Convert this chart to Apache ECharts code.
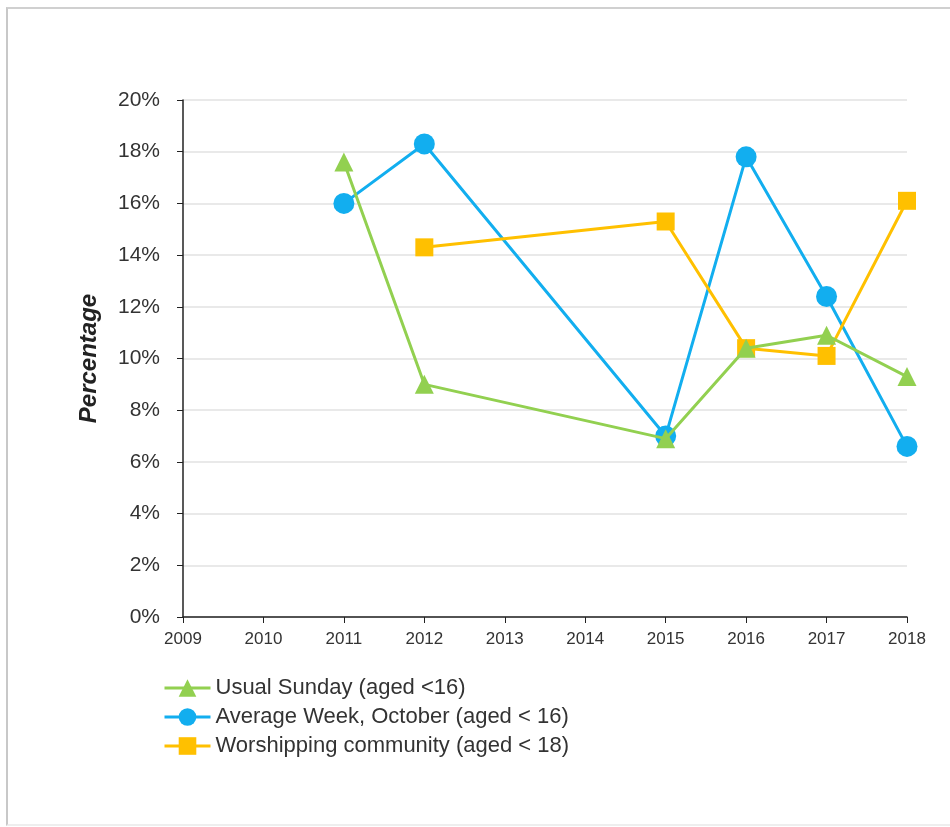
<!DOCTYPE html>
<html>
<head>
<meta charset="utf-8">
<script src="https://cdn.jsdelivr.net/npm/echarts@6/dist/echarts.min.js"></script>
<style>
html,body{margin:0;padding:0;background:#fff;}
#wrap{position:relative;width:950px;height:827px;overflow:hidden;}
#frame{position:absolute;left:6px;top:7px;width:960px;height:815px;border-left:2px solid #c8c8c8;border-top:2px solid #d0d0d0;border-bottom:2px solid #eeeeee;pointer-events:none;z-index:2;}
#chart{position:absolute;left:0;top:0;width:950px;height:827px;}
</style>
</head>
<body>
<div id="wrap"><div id="chart"></div><div id="frame"></div></div>
<script>
const seriesNames = ['Usual Sunday (aged <16)', 'Average Week, October (aged < 16)', 'Worshipping community (aged < 18)'];
const usualSunday = [[2011, 17.6], [2012, 9.0], [2015, 6.9], [2016, 10.4], [2017, 10.9], [2018, 9.3]];
const averageWeek = [[2011, 16.0], [2012, 18.3], [2015, 7.0], [2016, 17.8], [2017, 12.4], [2018, 6.6]];
const worshipping = [[2012, 14.3], [2015, 15.3], [2016, 10.4], [2017, 10.1], [2018, 16.1]];
const colors = ['#92d050', '#12aeef', '#ffc000'];

const chart = echarts.init(document.getElementById('chart'), null, {renderer: 'canvas'});
const font = 'Liberation Sans, Arial, sans-serif';
chart.setOption({
  animation: false,
  textStyle: {fontFamily: font},
  grid: {left: 183, right: 43, top: 100, bottom: 210},
  legend: {
    orient: 'vertical', left: 158, top: 672,
    itemWidth: 46, itemHeight: 22, itemGap: 7,
    data: seriesNames,
    lineStyle: {width: 3},
    textStyle: {fontSize: 22, lineHeight: 22, color: '#333', fontFamily: font}
  },
  xAxis: {
    type: 'value', min: 2009, max: 2018, interval: 1,
    axisLine: {lineStyle: {color: '#222', width: 1.5}},
    axisTick: {show: true, length: 6, lineStyle: {color: '#222'}},
    splitLine: {show: false},
    axisLabel: {color: '#333', fontSize: 17, margin: 14, formatter: v => String(v)}
  },
  yAxis: {
    type: 'value', min: 0, max: 20, interval: 2,
    name: 'Percentage', nameLocation: 'middle', nameRotate: 90, nameGap: 82,
    nameTextStyle: {fontSize: 24, fontWeight: 'bold', fontStyle: 'italic', color: '#222'},
    axisLine: {show: true, lineStyle: {color: '#222', width: 1.5}},
    axisTick: {show: true, length: 6, lineStyle: {color: '#222'}},
    splitLine: {lineStyle: {color: '#e2e2e2', width: 1.5}},
    axisLabel: {color: '#333', fontSize: 21, margin: 23, formatter: v => v + '%'}
  },
  series: [
    {name: seriesNames[1], type: 'line', data: averageWeek, color: colors[1], symbol: 'circle', symbolSize: 21, lineStyle: {width: 3}, z: 2},
    {name: seriesNames[2], type: 'line', data: worshipping, color: colors[2], symbol: 'rect', symbolSize: 18, lineStyle: {width: 3}, z: 3},
    {name: seriesNames[0], type: 'line', data: usualSunday, color: colors[0], symbol: 'triangle', symbolSize: 19, lineStyle: {width: 3}, z: 4}
  ]
});
</script>
</body>
</html>
